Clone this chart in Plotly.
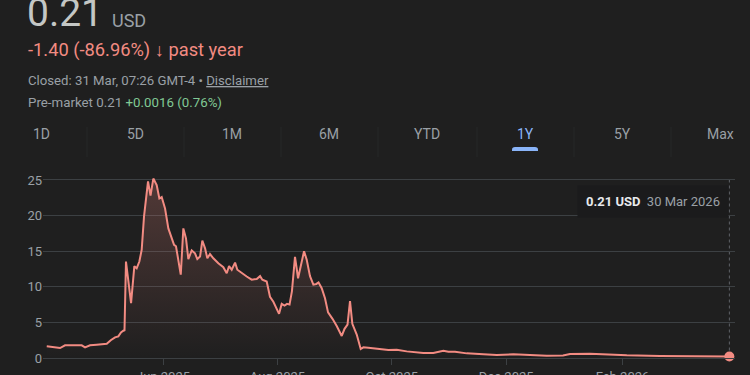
import plotly.graph_objects as go

W, H = 750, 375

dates = [
    "2025-03-31 00:00", "2025-04-04 10:00", "2025-04-07 02:00", "2025-04-09 18:00", "2025-04-13 07:00",
    "2025-04-16 00:00", "2025-04-18 15:00", "2025-04-20 10:00", "2025-04-23 02:00", "2025-04-26 15:00",
    "2025-05-02 00:00", "2025-05-04 03:00", "2025-05-06 10:00", "2025-05-08 04:00", "2025-05-09 14:00",
    "2025-05-10 20:00", "2025-05-11 11:00", "2025-05-12 06:00", "2025-05-13 12:00", "2025-05-14 23:00",
    "2025-05-16 17:00", "2025-05-17 23:00", "2025-05-19 09:00", "2025-05-20 15:00", "2025-05-21 21:00",
    "2025-05-22 22:00", "2025-05-24 00:00", "2025-05-25 08:00", "2025-05-26 20:00", "2025-05-28 15:00",
    "2025-05-30 01:00", "2025-05-31 07:00", "2025-06-02 02:00", "2025-06-03 20:00", "2025-06-05 15:00",
    "2025-06-06 21:00", "2025-06-07 22:00", "2025-06-09 04:00", "2025-06-10 11:00", "2025-06-11 20:00",
    "2025-06-13 06:00", "2025-06-14 12:00", "2025-06-16 07:00", "2025-06-18 01:00", "2025-06-19 07:00",
    "2025-06-20 18:00", "2025-06-21 23:00", "2025-06-23 10:00", "2025-06-24 15:00", "2025-06-26 01:00",
    "2025-06-27 20:00", "2025-06-30 12:00", "2025-07-03 04:00", "2025-07-04 23:00", "2025-07-06 05:00",
    "2025-07-07 15:00", "2025-07-09 10:00", "2025-07-10 15:00", "2025-07-12 23:00", "2025-07-15 15:00",
    "2025-07-18 07:00", "2025-07-20 23:00", "2025-07-22 18:00", "2025-07-23 23:00", "2025-07-26 07:00",
    "2025-07-28 01:00", "2025-07-29 20:00", "2025-07-31 15:00", "2025-08-01 21:00", "2025-08-03 07:00",
    "2025-08-04 19:00", "2025-08-06 03:00", "2025-08-07 11:00", "2025-08-08 18:00", "2025-08-10 09:00",
    "2025-08-12 00:00", "2025-08-13 14:00", "2025-08-15 05:00", "2025-08-16 15:00", "2025-08-18 09:00",
    "2025-08-20 04:00", "2025-08-21 18:00", "2025-08-22 22:00", "2025-08-24 15:00", "2025-08-26 09:00",
    "2025-08-28 00:00", "2025-08-30 09:00", "2025-09-01 15:00", "2025-09-04 07:00", "2025-09-05 19:00",
    "2025-09-07 09:00", "2025-09-08 17:00", "2025-09-09 23:00", "2025-09-12 07:00", "2025-09-14 10:00",
    "2025-09-15 20:00", "2025-09-18 12:00", "2025-09-22 01:00", "2025-09-25 15:00", "2025-09-29 04:00",
    "2025-10-03 15:00", "2025-10-08 23:00", "2025-10-17 19:00", "2025-10-23 03:00", "2025-10-28 12:00",
    "2025-10-31 04:00", "2025-11-03 17:00", "2025-11-09 23:00", "2025-11-18 19:00", "2025-11-25 23:00",
    "2025-12-04 19:00", "2025-12-13 17:00", "2025-12-22 15:00", "2025-12-31 07:00", "2026-01-04 01:00",
    "2026-01-14 17:00", "2026-01-25 09:00", "2026-02-03 07:00", "2026-02-21 01:00", "2026-03-10 15:00",
    "2026-03-30 00:00",
]

prices = [
    1.64, 1.54, 1.40, 1.78, 1.78,
    1.74, 1.78, 1.50, 1.78, 1.87,
    2.00, 2.50, 2.90, 3.04, 3.60,
    3.83, 3.90, 13.55, 11.0, 7.7,
    12.9, 12.6, 13.55, 15.2, 19.9,
    22.7, 24.8, 22.8, 25.2, 24.3,
    22.4, 22.6, 21.0, 18.2, 16.8,
    15.9, 15.7, 13.8, 11.7, 18.2,
    16.8, 13.9, 15.1, 14.7, 13.9,
    14.25, 16.5, 15.4, 14.0, 14.6,
    14.0, 13.3, 12.75, 11.9, 12.9,
    12.4, 13.4, 12.4, 11.9, 11.45,
    11.0, 11.1, 11.5, 11.0, 10.75,
    8.6, 7.9, 7.0, 6.2, 7.6,
    7.35, 7.6, 7.5, 9.4, 14.2,
    11.2, 13.1, 15.0, 13.8, 11.5,
    10.3, 10.4, 10.6, 9.8, 8.4,
    6.4, 5.5, 4.5, 3.1, 4.1,
    4.7, 8.0, 4.8, 3.3, 1.26,
    1.50, 1.45, 1.36, 1.20, 1.12,
    1.17, 0.93, 0.70, 0.70, 1.03,
    0.89, 0.89, 0.65, 0.51, 0.42,
    0.51, 0.37, 0.33, 0.34, 0.55,
    0.60, 0.48, 0.37, 0.28, 0.23,
    0.21,
]

y_ticks = [0, 5, 10, 15, 20, 25]
x_tick_dates = ["2025-06-01", "2025-08-01", "2025-10-01", "2025-12-01", "2026-02-01"]
x_tick_labels = ["Jun 2025", "Aug 2025", "Oct 2025", "Dec 2025", "Feb 2026"]
x_range = ["2025-03-29", "2026-04-02"]
y_range = [0, 25.28]

tabs = ["1D", "5D", "1M", "6M", "YTD", "1Y", "5Y", "Max"]
tab_x = [41, 135, 232, 329, 427, 525, 622, 720]
tab_sep_x = [87, 184, 281, 378, 477, 574, 671]
selected_tab = "1Y"

BG = "#1f1f1f"
LINE = "#f28b82"
GRID = "#3c4043"
GRAY = "#9aa0a6"
FONT = "Roboto, Arial, sans-serif"


def px(x):
    return x / W


def py(y):
    return 1 - y / H


fig = go.Figure()
fig.add_trace(go.Scatter(
    x=dates, y=prices, mode="lines",
    line=dict(color=LINE, width=2),
    fill="tozeroy",
    fillgradient=dict(type="vertical",
                      colorscale=[[0, "rgba(242,139,130,0)"], [1, "rgba(242,139,130,0.24)"]]),
    hoverinfo="skip", showlegend=False,
))
fig.add_trace(go.Scatter(
    x=[dates[-1]], y=[prices[-1]], mode="markers",
    marker=dict(color=LINE, size=10), cliponaxis=False,
    hoverinfo="skip", showlegend=False,
))

shapes = [
    dict(type="line", xref="x", yref="y", x0=dates[-1], x1=dates[-1], y0=prices[-1], y1=y_ticks[-1],
         line=dict(color="#5f6368", width=1, dash="dot"), layer="below"),
]
for sx in tab_sep_x:
    shapes.append(dict(type="line", xref="paper", yref="paper", x0=px(sx), x1=px(sx),
                       y0=py(127), y1=py(157), line=dict(color="#272829", width=1)))
# selected tab indicator (rounded top)
sel_cx = tab_x[tabs.index(selected_tab)]
x0, x1, yt, yb = sel_cx - 13, sel_cx + 13, 147, 151
path = (f"M {px(x0)},{py(yb)} L {px(x0)},{py(yt + 2.5)} Q {px(x0)},{py(yt)} {px(x0 + 3)},{py(yt)} "
        f"L {px(x1 - 3)},{py(yt)} Q {px(x1)},{py(yt)} {px(x1)},{py(yt + 2.5)} L {px(x1)},{py(yb)} Z")
shapes.append(dict(type="path", xref="paper", yref="paper", path=path,
                   fillcolor="#8ab4f8", line=dict(width=0)))

ann = []


def text(x, y, t, size, color, anchor="left"):
    ann.append(dict(xref="paper", yref="paper", x=px(x), y=py(y), text=t, showarrow=False,
                    xanchor=anchor, yanchor="middle", borderpad=0,
                    font=dict(family=FONT, size=size, color=color)))


text(26, 13, "0.21", 39, "#c4c7c5")
text(111, 20, "USD", 18, GRAY)
text(27, 49.5, "-1.40 (-86.96%) <b>↓</b> past year", 18.3, LINE)
text(27, 81, "Closed: 31 Mar, 07:26 GMT-4 • <u>Disclaimer</u>", 13.2, GRAY)
text(27, 102, "Pre-market 0.21 <span style='color:#81c995'>+0.0016 (0.76%)</span>", 13.3, GRAY)
for t, tx in zip(tabs, tab_x):
    text(tx, 134, t, 14, "#8ab4f8" if t == selected_tab else GRAY, anchor="center")

ann.append(dict(xref="paper", yref="paper", x=px(729), y=py(202), xanchor="right", yanchor="middle",
                text=f"<b>{prices[-1]:.2f} USD</b>  <span style='color:{GRAY}'>30 Mar 2026</span>",
                showarrow=False, bgcolor="#1b1b1c", borderpad=8,
                font=dict(family=FONT, size=13, color="#e8eaed")))

fig.update_layout(
    width=W, height=H,
    margin=dict(l=0, r=0, t=0, b=0),
    paper_bgcolor=BG, plot_bgcolor=BG,
    font=dict(family=FONT, color=GRAY),
    shapes=shapes, annotations=ann,
    xaxis=dict(domain=[px(43), px(735)], type="date", range=x_range,
               tickvals=x_tick_dates, ticktext=x_tick_labels,
               ticks="outside", ticklen=6, tickcolor=GRID, tickwidth=1,
               showgrid=False, showline=True, linecolor=GRID, linewidth=1, zeroline=False,
               tickfont=dict(size=13, color=GRAY), automargin=False, fixedrange=True),
    yaxis=dict(domain=[py(358), py(178)], range=y_range, tickvals=y_ticks,
               showgrid=True, gridcolor=GRID, gridwidth=1, zeroline=False, showline=False,
               tickfont=dict(size=13, color=GRAY), automargin=False, fixedrange=True),
)

fig.write_html("out.html", config={"displayModeBar": False},
               post_script="document.body.style.margin='0px';document.body.style.background='#1f1f1f';")
